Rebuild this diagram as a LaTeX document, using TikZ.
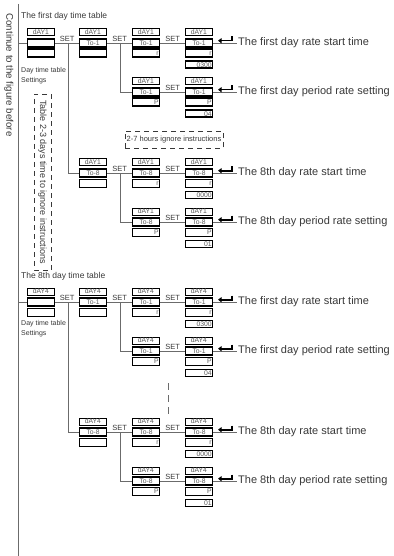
\documentclass[tikz,border=0pt]{standalone}
\usepackage{fontspec}
\setmainfont{Liberation Sans}
\usetikzlibrary{arrows.meta}
\definecolor{linegray}{gray}{0.42}
\definecolor{textgray}{gray}{0.22}

\tikzset{
  lbox/.style={draw, line width=0.7pt, minimum width=27pt, minimum height=7pt, inner sep=0pt, text height=5pt, text depth=0pt, text=black!65, font=\fontsize{6.8}{6.8}\selectfont},
  rbox/.style={draw, line width=1.3pt, minimum width=27pt, minimum height=8pt, inner sep=0pt, text height=5pt, text depth=0pt, text=black!65, font=\fontsize{6.8}{6.8}\selectfont},
  link/.style={draw=linegray, line width=0.8pt},
  setlbl/.style={above, inner sep=1.2pt, text=textgray, font=\fontsize{7.5}{7.5}\selectfont},
  note/.style={anchor=west, inner sep=1pt, text=textgray, font=\fontsize{11}{11}\selectfont},
  head/.style={anchor=west, inner sep=0pt, text=textgray, font=\fontsize{8.5}{9}\selectfont},
  small/.style={anchor=west, inner sep=0pt, text=textgray, align=left, font=\fontsize{7}{10}\selectfont},
  ret/.style={line width=1.6pt, -{Triangle[length=3.5pt,width=5pt]}},
  ignore/.style={draw=textgray, dash pattern=on 5pt off 4pt, inner sep=0pt, text=textgray}
}

% one display: top label, set line row, value row
\newcommand{\panel}[6]{%
  \node[lbox, anchor=north west] (#1t) at (#2,#3-14.5) {#4};
  \node[rbox, anchor=west] (#1m) at (#2,#3) {#5};
  \node[rbox, anchor=north west, text width=25pt, align=right] (#1b) at (#2,#3+5.5) {#6};
}
% extra value box under a display
\newcommand{\extra}[4]{%
  \node[rbox, anchor=north west, minimum height=7pt, text width=25pt, align=right] (#1x) at (#2,#3+17.5) {#4};
}
% enter key sign above the line
\newcommand{\retsym}[1]{\draw[ret] (232,#1-6.5) -- (232,#1-2.3) -- (218,#1-2.3);}

\begin{document}
\begin{tikzpicture}[x=1pt,y=-1pt]
\useasboundingbox (0,0) rectangle (393,556);

% spine
\coordinate (top) at (18,4);
\coordinate (bottom) at (18,556);
\draw[link] (top) -- (bottom);
\node[rotate=-90, text=textgray, font=\fontsize{9.7}{10}\selectfont] (cont) at (9,75) {Continue to the figure before};

%% first day time table
\node[head] (h1) at (21,16) {The first day time table};
\node[small] (d1) at (21,76) {Day time table\\Settings};

\panel{a0}{27}{43}{dAY1}{}{}
\panel{a1}{79}{43}{dAY1}{To-1}{}
\panel{a2}{132}{43}{dAY1}{To-1}{r}
\panel{a3}{185}{43}{dAY1}{To-1}{r}
\extra{a3}{185}{43}{0300}
\panel{p2}{132}{92}{dAY1}{To-1}{P}
\panel{p3}{185}{92}{dAY1}{To-1}{P}
\extra{p3}{185}{92}{04}

\node[note] (n1) at (237,43) {The first day rate start time};
\node[note] (n2) at (237,92) {The first day period rate setting};

\coordinate (s1) at (18,43);
\coordinate (j0) at (68,43);
\coordinate (j1) at (120,43);
\draw[link] (s1) -- (a0m);
\draw[link] (a0m) -- node[setlbl] {SET} (a1m);
\draw[link] (a1m) -- node[setlbl] {SET} (a2m);
\draw[link] (a2m) -- node[setlbl] {SET} (a3m);
\draw[link] (a3m) -- (n1);
\draw[link] (j1) |- (p2m);
\draw[link] (p2m) -- node[setlbl] {SET} (p3m);
\draw[link] (p3m) -- (n2);
\retsym{43}
\retsym{92}

% ignore notes
\node[ignore, rotate=-90, minimum width=176pt, minimum height=17pt, font=\fontsize{9}{9}\selectfont] (ign23) at (42.5,182) {Table 2-3 days time to ignore instructions};
\node[ignore, minimum width=98pt, minimum height=17pt, font=\fontsize{7.5}{7.5}\selectfont] (ign27) at (174,140) {2-7 hours ignore instructions};

% 8th hour of first day
\panel{b1}{79}{173}{dAY1}{To-8}{}
\panel{b2}{132}{173}{dAY1}{To-8}{r}
\panel{b3}{185}{173}{dAY1}{To-8}{r}
\extra{b3}{185}{173}{0000}
\panel{q2}{132}{222}{dAY1}{To-8}{P}
\panel{q3}{185}{222}{dAY1}{To-8}{P}
\extra{q3}{185}{222}{01}

\node[note] (n3) at (237,173) {The 8th day rate start time};
\node[note] (n4) at (237,222) {The 8th day period rate setting};

\coordinate (j2) at (120,173);
\draw[link] (j0) |- (b1m);
\draw[link] (b1m) -- node[setlbl] {SET} (b2m);
\draw[link] (b2m) -- node[setlbl] {SET} (b3m);
\draw[link] (b3m) -- (n3);
\draw[link] (j2) |- (q2m);
\draw[link] (q2m) -- node[setlbl] {SET} (q3m);
\draw[link] (q3m) -- (n4);
\retsym{173}
\retsym{222}

%% 8th day time table
\node[head] (h2) at (21,276) {The 8th day time table};
\node[small] (d2) at (21,329) {Day time table\\Settings};

\panel{c0}{27}{302}{dAY4}{}{}
\panel{c1}{79}{302}{dAY4}{To-1}{}
\panel{c2}{132}{302}{dAY4}{To-1}{r}
\panel{c3}{185}{302}{dAY4}{To-1}{r}
\extra{c3}{185}{302}{0300}
\panel{r2}{132}{351}{dAY4}{To-1}{P}
\panel{r3}{185}{351}{dAY4}{To-1}{P}
\extra{r3}{185}{351}{04}

\node[note] (n5) at (237,302) {The first day rate start time};
\node[note] (n6) at (237,351) {The first day period rate setting};

\coordinate (s2) at (18,302);
\coordinate (k0) at (68,302);
\coordinate (k1) at (120,302);
\draw[link] (s2) -- (c0m);
\draw[link] (c0m) -- node[setlbl] {SET} (c1m);
\draw[link] (c1m) -- node[setlbl] {SET} (c2m);
\draw[link] (c2m) -- node[setlbl] {SET} (c3m);
\draw[link] (c3m) -- (n5);
\draw[link] (k1) |- (r2m);
\draw[link] (r2m) -- node[setlbl] {SET} (r3m);
\draw[link] (r3m) -- (n6);
\retsym{302}
\retsym{351}

% skipped hours
\coordinate (g1) at (168,383);
\coordinate (g2) at (168,414);
\draw[link, dash pattern=on 7pt off 5pt] (g1) -- (g2);

\panel{e1}{79}{432}{dAY4}{To-8}{}
\panel{e2}{132}{432}{dAY4}{To-8}{r}
\panel{e3}{185}{432}{dAY4}{To-8}{r}
\extra{e3}{185}{432}{0000}
\panel{f2}{132}{481}{dAY4}{To-8}{P}
\panel{f3}{185}{481}{dAY4}{To-8}{P}
\extra{f3}{185}{481}{01}

\node[note] (n7) at (237,432) {The 8th day rate start time};
\node[note] (n8) at (237,481) {The 8th day period rate setting};

\coordinate (k2) at (120,432);
\draw[link] (k0) |- (e1m);
\draw[link] (e1m) -- node[setlbl] {SET} (e2m);
\draw[link] (e2m) -- node[setlbl] {SET} (e3m);
\draw[link] (e3m) -- (n7);
\draw[link] (k2) |- (f2m);
\draw[link] (f2m) -- node[setlbl] {SET} (f3m);
\draw[link] (f3m) -- (n8);
\retsym{432}
\retsym{481}

\end{tikzpicture}
\end{document}
